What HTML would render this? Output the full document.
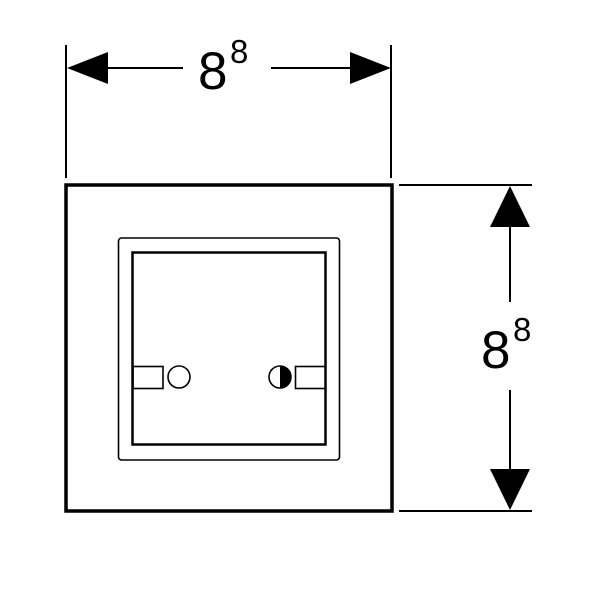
<!DOCTYPE html>
<html><head><meta charset="utf-8"><style>
html,body{margin:0;padding:0;background:#fff;}
svg{display:block;}
text{font-family:"Liberation Sans",sans-serif;fill:#000;}
</style></head><body>
<svg width="600" height="600" viewBox="0 0 600 600" xmlns="http://www.w3.org/2000/svg">
<rect x="0" y="0" width="600" height="600" fill="#fff"/>
<!-- horizontal dimension -->
<line x1="66" y1="45" x2="66" y2="178" stroke="#000" stroke-width="2"/>
<line x1="391" y1="45" x2="391" y2="178" stroke="#000" stroke-width="2"/>
<polygon points="67,68 108,52 108,84" fill="#000"/>
<polygon points="391,68 350,52 350,84" fill="#000"/>
<line x1="108" y1="68" x2="183" y2="68" stroke="#000" stroke-width="2"/>
<line x1="271" y1="68" x2="350" y2="68" stroke="#000" stroke-width="2"/>
<text x="198" y="89" font-size="53">8</text>
<text x="230" y="63" font-size="33">8</text>
<!-- vertical dimension -->
<line x1="399" y1="185" x2="532" y2="185" stroke="#000" stroke-width="2"/>
<line x1="399" y1="511" x2="532" y2="511" stroke="#000" stroke-width="2"/>
<polygon points="510,186 490,227 530,227" fill="#000"/>
<polygon points="510,510 490,469 530,469" fill="#000"/>
<line x1="510" y1="227" x2="510" y2="302" stroke="#000" stroke-width="2"/>
<line x1="510" y1="390" x2="510" y2="469" stroke="#000" stroke-width="2"/>
<text x="481" y="368" font-size="53">8</text>
<text x="513" y="341" font-size="33">8</text>
<!-- outer frame -->
<rect x="66" y="185" width="326" height="326" fill="none" stroke="#000" stroke-width="3.5"/>
<rect x="118.5" y="238" width="221" height="222" rx="3" fill="none" stroke="#000" stroke-width="1.6"/>
<rect x="132.5" y="252.5" width="193" height="192" fill="none" stroke="#000" stroke-width="2.5"/>
<!-- details -->
<rect x="133" y="366.5" width="30" height="22" fill="none" stroke="#000" stroke-width="1.6"/>
<circle cx="179" cy="377" r="11" fill="none" stroke="#000" stroke-width="1.6"/>
<rect x="295.5" y="366.5" width="30" height="22" fill="none" stroke="#000" stroke-width="1.6"/>
<circle cx="280" cy="377" r="11" fill="none" stroke="#000" stroke-width="1.6"/>
<path d="M280,366 A11,11 0 0 1 280,388 Z" fill="#000"/>
</svg>
</body></html>
